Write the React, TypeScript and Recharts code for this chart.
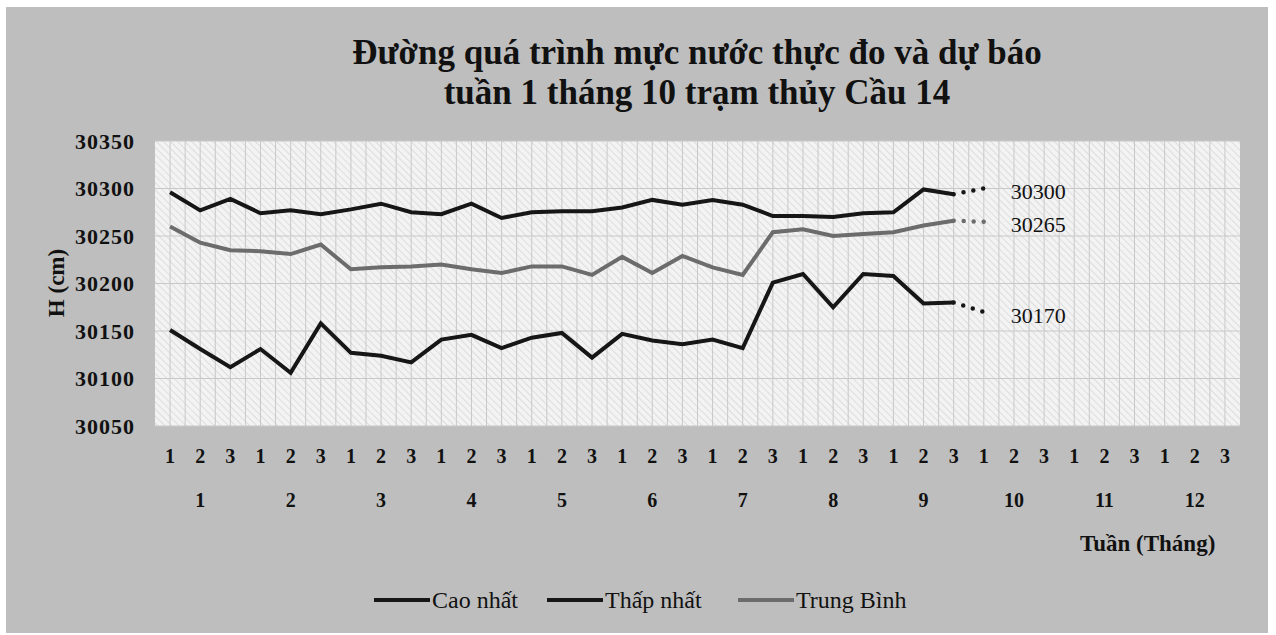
import React from 'react';
import { LineChart, Line, XAxis, YAxis, CartesianGrid, LabelList } from 'recharts';

const SERIF = '"Liberation Serif", "Times New Roman", serif';

const decades = ['1','2','3','1','2','3','1','2','3','1','2','3','1','2','3','1','2','3','1','2','3','1','2','3','1','2','3','1','2','3','1','2','3','1','2','3'];
const months = ['1','1','1','2','2','2','3','3','3','4','4','4','5','5','5','6','6','6','7','7','7','8','8','8','9','9','9','10','10','10','11','11','11','12','12','12'];

const caoNhat = [30296,30277,30289,30274,30277,30273,30278,30284,30275,30273,30284,30269,30275,30276,30276,30280,30288,30283,30288,30283,30271,30271,30270,30274,30275,30299,30294];
const thapNhat = [30151,30131,30112,30131,30106,30158,30127,30124,30117,30141,30146,30132,30143,30148,30122,30147,30140,30136,30141,30132,30201,30210,30175,30210,30208,30179,30180];
const trungBinh = [30260,30243,30235,30234,30231,30241,30215,30217,30218,30220,30215,30211,30218,30218,30209,30228,30211,30229,30217,30209,30254,30257,30250,30252,30254,30261,30266];

const forecastIndex = 27;
const forecastCao = 30300;
const forecastTB = 30265;
const forecastThap = 30170;

const yTicks = [30050, 30100, 30150, 30200, 30250, 30300, 30350];

const lastIdx = caoNhat.length - 1;
const data = decades.map((d, i) => ({
  key: `${months[i]}-${d}`,
  dec: d,
  month: months[i],
  cao: i <= lastIdx ? caoNhat[i] : null,
  thap: i <= lastIdx ? thapNhat[i] : null,
  tb: i <= lastIdx ? trungBinh[i] : null,
  caoF: i === lastIdx ? caoNhat[i] : i === forecastIndex ? forecastCao : null,
  thapF: i === lastIdx ? thapNhat[i] : i === forecastIndex ? forecastThap : null,
  tbF: i === lastIdx ? trungBinh[i] : i === forecastIndex ? forecastTB : null,
}));

const BLACK = '#161616';
const GRAY = '#6c6c6c';

const YTick = (props: any) => {
  const { x, y, payload } = props;
  return (
    <text x={x} y={y} textAnchor="end" dominantBaseline="central" fontFamily={SERIF} fontWeight="bold" fontSize={22} fill="#111" letterSpacing={1}>
      {payload.value}
    </text>
  );
};

const DecTick = (props: any) => {
  const { x, y, index } = props;
  return (
    <text x={x} y={y + 37} textAnchor="middle" fontFamily={SERIF} fontWeight="bold" fontSize={20} fill="#111">
      {decades[index]}
    </text>
  );
};

const MonthTick = (props: any) => {
  const { x, y, index } = props;
  if (index % 3 !== 1) return null;
  return (
    <text x={x} y={y + 51} textAnchor="middle" fontFamily={SERIF} fontWeight="bold" fontSize={20} fill="#111">
      {months[index]}
    </text>
  );
};

const ForecastLabel = (props: any) => {
  const { x, y, value, index } = props;
  if (index !== forecastIndex) return null;
  return (
    <text x={x + 27} y={y + 3} dominantBaseline="central" fontFamily={SERIF} fontSize={22} fill="#111">
      {value}
    </text>
  );
};

const legendItems = [
  { label: 'Cao nhất', color: BLACK, left: 374 },
  { label: 'Thấp nhất', color: BLACK, left: 547 },
  { label: 'Trung Bình', color: GRAY, left: 738 },
];

export default function App() {
  return (
    <div style={{ position: 'absolute', left: 0, top: 0, width: 1276, height: 635, background: '#ffffff', overflow: 'hidden' }}>
      <div style={{ position: 'absolute', left: 6, top: 7, width: 1262, height: 626, background: '#bebebe' }} />
      <div style={{ position: 'absolute', left: 0, top: 0 }}>
        <LineChart width={1276} height={635} data={data} margin={{ top: 141, right: 36, bottom: 149, left: 0 }}>
          <defs>
            <pattern id="hatch" width="5" height="5" patternUnits="userSpaceOnUse" patternTransform="rotate(-45)">
              <rect width="5" height="5" fill="#f3f3f3" />
              <line x1="0" y1="0" x2="0" y2="5" stroke="#d6d6d6" strokeWidth="1.5" />
            </pattern>
          </defs>
          <CartesianGrid
            xAxisId="dec"
            fill="url(#hatch)"
            stroke="#c8c8c8"
            strokeWidth={1}
            verticalCoordinatesGenerator={({ offset }: any) =>
              Array.from({ length: decades.length * 2 - 1 }, (_, k) => offset.left + ((k + 1) * offset.width) / (decades.length * 2))
            }
          />
          <XAxis xAxisId="dec" dataKey="key" scale="band" axisLine={false} tickLine={false} tickSize={0} tickMargin={0} interval={0} height={30} tick={<DecTick />} />
          <XAxis xAxisId="mon" dataKey="key" scale="band" axisLine={false} tickLine={false} tickSize={0} tickMargin={0} interval={0} height={30} tick={<MonthTick />} />
          <YAxis
            domain={[30050, 30350]}
            ticks={yTicks}
            width={155}
            axisLine={false}
            tickLine={false}
            tickSize={0}
            tickMargin={20}
            interval={0}
            tick={<YTick />}
          />
          <Line xAxisId="dec" type="linear" dataKey="cao" stroke={BLACK} strokeWidth={4} dot={false} isAnimationActive={false} />
          <Line xAxisId="dec" type="linear" dataKey="thap" stroke={BLACK} strokeWidth={4} dot={false} isAnimationActive={false} />
          <Line xAxisId="dec" type="linear" dataKey="tb" stroke={GRAY} strokeWidth={4} dot={false} isAnimationActive={false} />
          <Line xAxisId="dec" type="linear" dataKey="caoF" stroke={BLACK} strokeWidth={4.5} strokeDasharray="0 10" strokeLinecap="round" dot={false} isAnimationActive={false}>
            <LabelList dataKey="caoF" content={<ForecastLabel />} />
          </Line>
          <Line xAxisId="dec" type="linear" dataKey="tbF" stroke={GRAY} strokeWidth={4.5} strokeDasharray="0 10" strokeLinecap="round" dot={false} isAnimationActive={false}>
            <LabelList dataKey="tbF" content={<ForecastLabel />} />
          </Line>
          <Line xAxisId="dec" type="linear" dataKey="thapF" stroke={BLACK} strokeWidth={4.5} strokeDasharray="0 10" strokeLinecap="round" dot={false} isAnimationActive={false}>
            <LabelList dataKey="thapF" content={<ForecastLabel />} />
          </Line>
        </LineChart>
      </div>
      <div style={{ position: 'absolute', left: 0, top: 33, width: 1394, textAlign: 'center', fontFamily: SERIF, fontWeight: 'bold', fontSize: 35, lineHeight: '40px', color: '#111' }}>
        <div>Đường quá trình mực nước thực đo và dự báo</div>
        <div>tuần 1 tháng 10 trạm thủy Cầu 14</div>
      </div>
      <div style={{ position: 'absolute', left: 57, top: 283, transform: 'translate(-50%, -50%) rotate(-90deg)', fontFamily: SERIF, fontWeight: 'bold', fontSize: 23, color: '#111', whiteSpace: 'nowrap' }}>
        H (cm)
      </div>
      <div style={{ position: 'absolute', left: 1080, top: 530, fontFamily: SERIF, fontWeight: 'bold', fontSize: 23, lineHeight: '28px', color: '#111', whiteSpace: 'nowrap' }}>
        Tuần (Tháng)
      </div>
      {legendItems.map((it) => (
        <div key={it.label} style={{ position: 'absolute', left: it.left, top: 586, height: 28, display: 'flex', alignItems: 'center', fontFamily: SERIF, fontSize: 24, lineHeight: '28px', color: '#111', whiteSpace: 'nowrap' }}>
          <span style={{ display: 'inline-block', width: 56, height: 4, background: it.color, marginRight: 2 }} />
          <span>{it.label}</span>
        </div>
      ))}
    </div>
  );
}
